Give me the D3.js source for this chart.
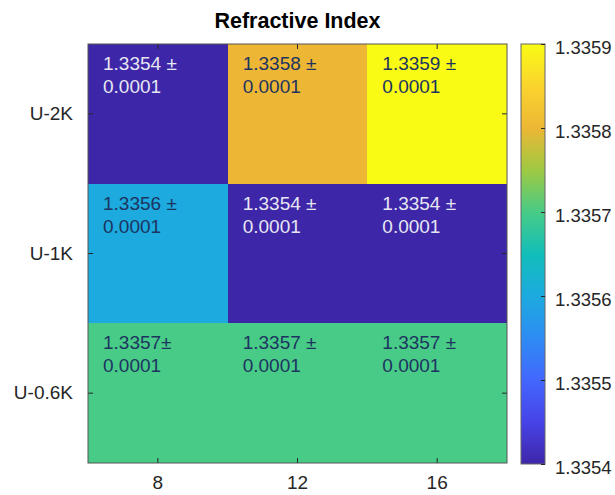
<!DOCTYPE html>
<html>
<head>
<meta charset="utf-8">
<script src="https://cdn.jsdelivr.net/npm/d3@7"></script>
<style>
  html, body { margin: 0; padding: 0; background: #fff; }
  svg { display: block; font-family: "Liberation Sans", Arial, Helvetica, sans-serif; }
</style>
</head>
<body>
<svg id="chart" width="615" height="495"></svg>
<script>
// Grid categories
const columns = ["8", "12", "16"];
const rows = ["U-2K", "U-1K", "U-0.6K"];

// Refractive index per row (top to bottom), one value per column
const indexU2K = [1.3354, 1.3358, 1.3359];
const indexU1K = [1.3356, 1.3354, 1.3354];
const indexU06K = [1.3357, 1.3357, 1.3357];
const uncertainty = 0.0001;
// whether a space precedes the ± sign in each cell label (row-major)
const spaceBeforePm = [true, true, true, true, true, true, false, true, true];

// Colour bar ticks
const colorTicks = [1.3354, 1.3355, 1.3356, 1.3357, 1.3358, 1.3359];
const colorDomain = [1.3354, 1.3359];

// Parula colour ramp, sampled at eleven even steps
const parula = ["#3e26a8", "#4743e7", "#4367fd", "#2d8cf3", "#1caadf", "#12beb9",
                "#48cb86", "#9fc942", "#edb735", "#fad42e", "#f9fb14"];

const svg = d3.select("#chart");
const plot = { left: 88, right: 507, top: 44, bottom: 463 };
const cbar = { left: 521, right: 545, top: 44, bottom: 464 };
const textColor = "#262626";

const x = d3.scaleBand().domain(columns).range([plot.left, plot.right]).padding(0);
const y = d3.scaleBand().domain(rows).range([plot.top, plot.bottom]).padding(0);

const frac = d3.scaleLinear().domain(colorDomain).range([0, 1]).clamp(true);
const ramp = d3.piecewise(d3.interpolateRgb, parula);
const color = v => ramp(frac(v));

const table = [indexU2K, indexU1K, indexU06K];
const cells = [];
rows.forEach((r, i) => columns.forEach((c, j) => {
  cells.push({ row: r, col: c, value: table[i][j], space: spaceBeforePm[i * columns.length + j] });
}));

// Heatmap cells
svg.append("g").selectAll("rect").data(cells).join("rect")
  .attr("x", d => x(d.col))
  .attr("y", d => y(d.row))
  .attr("width", x.bandwidth())
  .attr("height", y.bandwidth())
  .attr("fill", d => color(d.value))
  .attr("shape-rendering", "crispEdges");

// Cell labels: value ± uncertainty on two lines
const labels = svg.append("g").selectAll("text").data(cells).join("text")
  .attr("x", d => x(d.col) + 15)
  .attr("y", d => y(d.row) + 26)
  .attr("font-size", 19)
  .attr("fill", d => frac(d.value) < 0.2 ? "#e6e6f2" : "#1d3461");
labels.append("tspan").text(d => d.value.toFixed(4) + (d.space ? " ±" : "±"));
labels.append("tspan")
  .attr("x", d => x(d.col) + 15)
  .attr("dy", 23)
  .text(uncertainty.toFixed(4));

// Axes with inward ticks
function styleAxis(g, showText) {
  g.attr("font-family", null);
  g.select(".domain").remove();
  g.selectAll(".tick line").attr("stroke", textColor);
  g.selectAll(".tick text").attr("fill", textColor).attr("font-size", 19)
    .style("display", showText ? null : "none");
}
svg.append("g").attr("transform", `translate(0,${plot.bottom})`)
  .call(d3.axisBottom(x).tickSizeInner(-5).tickSizeOuter(0).tickPadding(13))
  .call(g => styleAxis(g, true));
svg.append("g").attr("transform", `translate(0,${plot.top})`)
  .call(d3.axisTop(x).tickSizeInner(-5).tickSizeOuter(0))
  .call(g => styleAxis(g, false));
svg.append("g").attr("transform", `translate(${plot.left},0)`)
  .call(d3.axisLeft(y).tickSizeInner(-5).tickSizeOuter(0).tickPadding(15))
  .call(g => styleAxis(g, true));
svg.append("g").attr("transform", `translate(${plot.right},0)`)
  .call(d3.axisRight(y).tickSizeInner(-5).tickSizeOuter(0))
  .call(g => styleAxis(g, false));

// Plot frame
svg.append("rect")
  .attr("x", plot.left).attr("y", plot.top)
  .attr("width", plot.right - plot.left).attr("height", plot.bottom - plot.top)
  .attr("fill", "none").attr("stroke", "#555").attr("stroke-width", 1);

// Title
svg.append("text")
  .attr("x", (plot.left + plot.right) / 2)
  .attr("y", 28)
  .attr("text-anchor", "middle")
  .attr("font-size", 21.5)
  .attr("font-weight", "bold")
  .attr("fill", "#000")
  .text("Refractive Index");

// Colour bar
const defs = svg.append("defs");
const grad = defs.append("linearGradient").attr("id", "cbgrad")
  .attr("x1", 0).attr("y1", 1).attr("x2", 0).attr("y2", 0);
grad.selectAll("stop").data(parula).join("stop")
  .attr("offset", (d, i) => i / (parula.length - 1))
  .attr("stop-color", d => d);

svg.append("rect")
  .attr("x", cbar.left).attr("y", cbar.top)
  .attr("width", cbar.right - cbar.left).attr("height", cbar.bottom - cbar.top)
  .attr("fill", "url(#cbgrad)")
  .attr("stroke", "#666").attr("stroke-width", 1);

const cy = d3.scaleLinear().domain(colorDomain).range([cbar.bottom, cbar.top]);
svg.append("g").attr("transform", `translate(${cbar.right},0)`)
  .call(d3.axisRight(cy).tickValues(colorTicks).tickFormat(d3.format(".4f"))
    .tickSizeInner(-4).tickSizeOuter(0).tickPadding(10))
  .call(g => {
    g.attr("font-family", null);
    g.select(".domain").remove();
    g.selectAll(".tick line").attr("stroke", textColor);
    g.selectAll(".tick text").attr("fill", textColor).attr("font-size", 18.5).attr("dy", "0.5em");
  });
</script>
</body>
</html>
